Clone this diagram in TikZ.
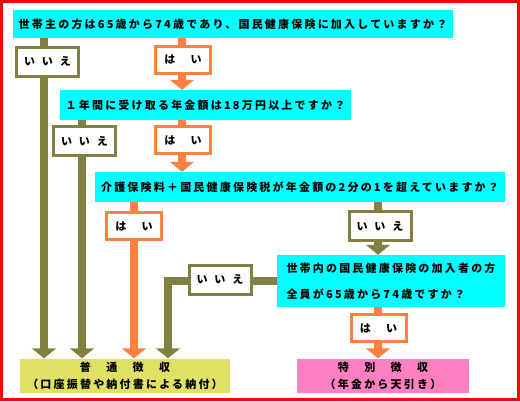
\documentclass[tikz,border=0pt]{standalone}
\usepackage{fontspec}
\newfontfamily\jp{Noto Sans CJK JP}[LetterSpace=20]
\usetikzlibrary{arrows.meta,backgrounds}
\definecolor{qcyan}{HTML}{00FFFF}
\definecolor{noolive}{HTML}{808040}
\definecolor{yesorange}{HTML}{FF8040}
\definecolor{futsuyellow}{HTML}{E0E066}
\definecolor{tokupink}{HTML}{FF80C0}
\newcommand{\iie}{い\hspace{7pt}い\hspace{7pt}え}

\begin{document}
\begin{tikzpicture}[
    x=1pt, y=-1pt,
    font=\jp\bfseries\fontsize{11}{13}\selectfont,
    question/.style={fill=qcyan, inner sep=0pt, align=center},
    nobox/.style={draw=noolive, line width=3pt, fill=white, inner sep=0pt,
        minimum width=62pt, minimum height=29pt},
    yesbox/.style={draw=yesorange, line width=3pt, fill=white, inner sep=0pt,
        minimum width=55pt, minimum height=27pt},
    result/.style={inner sep=0pt, minimum height=34pt, align=center,
        font=\jp\bfseries\fontsize{11}{17}\selectfont},
    noline/.style={draw=noolive, line width=8pt},
    yesline/.style={draw=yesorange, line width=8pt},
    arrowed/.style={-{Triangle[width=24pt,length=10pt]}},
]
\useasboundingbox (0,0) rectangle (520,402);
\draw[red, line width=3pt] (1.5,1.5) rectangle (518.5,399.5);

% questions
\node[question, minimum width=440pt, minimum height=28pt] (q1) at (233,24)
    {世帯主の方は65歳から74歳であり、国民健康保険に加入していますか？};
\node[question, minimum width=291pt, minimum height=30pt] (q2) at (205.5,105)
    {１年間に受け取る年金額は18万円以上ですか？};
\node[question, minimum width=410pt, minimum height=30pt] (q3) at (300,187)
    {介護保険料＋国民健康保険税が年金額の2分の1を超えていますか？};
\node[question, minimum width=228pt, minimum height=52pt, align=left,
    font=\jp\bfseries\fontsize{11}{26}\selectfont] (q4) at (391,281)
    {世帯内の国民健康保険の加入者の方\\全員が65歳から74歳ですか？};

% results
\node[result, fill=futsuyellow, minimum width=210pt] (futsu) at (125,375.5)
    {普　通　徴　収\\（口座振替や納付書による納付）};
\node[result, fill=tokupink, minimum width=172pt] (toku) at (383,375.5)
    {特　別　徴　収\\（年金から天引き）};

% answers
\node[nobox] (n1) at (47.5,61.5) {\iie};
\node[yesbox] (y1) at (183,59.5) {は　い};
\node[nobox] (n2) at (84.5,141) {\iie};
\node[yesbox] (y2) at (183,140) {は　い};
\node[yesbox] (y3) at (134,226) {は　い};
\node[nobox] (n3) at (380,226) {\iie};
\node[nobox] (n4) at (220,279.5) {\iie};
\node[yesbox] (y4) at (378.5,328) {は　い};

\coordinate (s1) at (44,0);
\coordinate (s2) at (82,0);
\coordinate (s3) at (134,0);
\coordinate (s4) at (168,0);
\coordinate (s5) at (182,0);
\coordinate (s6) at (378,0);

\begin{scope}[on background layer]
    \draw[noline, arrowed] (q1.south -| s1) -- (futsu.north -| s1);
    \draw[yesline, arrowed] (q1.south -| s5) -- (q2.north -| s5);
    \draw[noline, arrowed] (q2.south -| s2) -- (futsu.north -| s2);
    \draw[yesline, arrowed] (q2.south -| s5) -- (q3.north -| s5);
    \draw[yesline, arrowed] (q3.south -| s3) -- (futsu.north -| s3);
    \draw[noline, arrowed] (q3.south -| s6) -- (q4.north -| s6);
    \draw[noline, arrowed] (q4.west) -- (q4.west -| s4) -- (futsu.north -| s4);
    \draw[yesline, arrowed] (q4.south -| s6) -- (toku.north -| s6);
\end{scope}
\end{tikzpicture}
\end{document}
